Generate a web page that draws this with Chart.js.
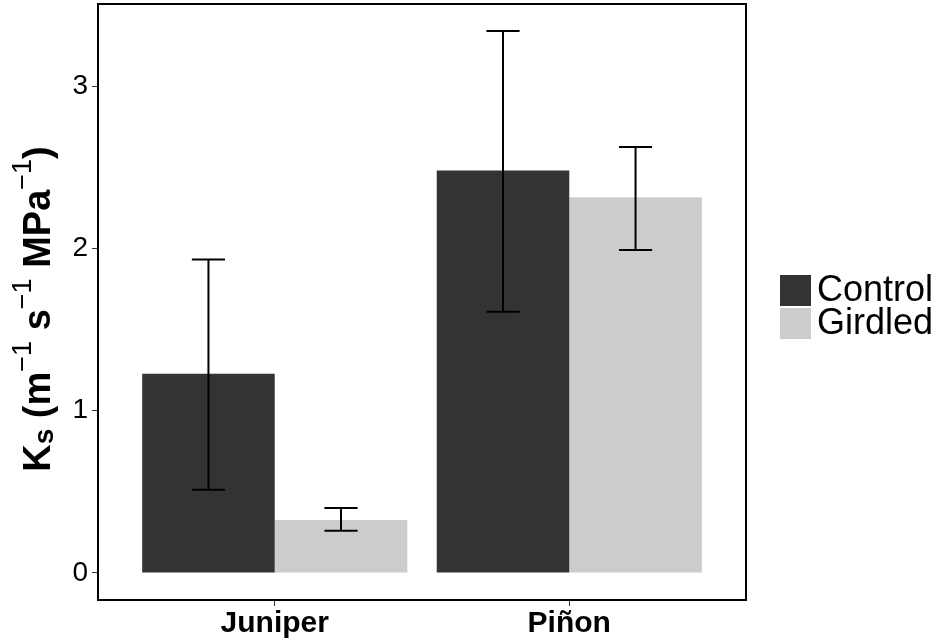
<!DOCTYPE html>
<html>
<head>
<meta charset="utf-8">
<script src="https://cdn.jsdelivr.net/npm/chart.js@4.4.1/dist/chart.umd.min.js"></script>
<style>
  html, body { margin: 0; padding: 0; background: #fff; }
  #wrap { width: 941px; height: 640px; }
</style>
</head>
<body>
<div id="wrap"><canvas id="chart" width="941" height="640"></canvas></div>
<script>
const categories = ["Juniper", "Piñon"];
const seriesNames = ["Control", "Girdled"];
const controlMeans = [1.228, 2.48];
const controlLower = [0.512, 1.61];
const controlUpper = [1.932, 3.34];
const girdledMeans = [0.327, 2.315];
const girdledLower = [0.26, 1.99];
const girdledUpper = [0.40, 2.625];
const yTicks = [0, 1, 2, 3];

const FONT = "'Liberation Sans', Arial, Helvetica, sans-serif";

const toPoints = (values) => values.map((v, i) => ({ x: i + 1, y: v }));

// error bars, drawn from the bar elements and the y scale
const errorBars = {
  id: "errorBars",
  afterDatasetsDraw(chart) {
    const ctx = chart.ctx;
    const y = chart.scales.y;
    ctx.save();
    ctx.strokeStyle = "#000";
    ctx.lineWidth = 2;
    chart.data.datasets.forEach((ds, di) => {
      const meta = chart.getDatasetMeta(di);
      meta.data.forEach((bar, i) => {
        const lo = y.getPixelForValue(ds.lower[i]);
        const hi = y.getPixelForValue(ds.upper[i]);
        const half = bar.width * 0.125;
        ctx.beginPath();
        ctx.moveTo(bar.x, lo);
        ctx.lineTo(bar.x, hi);
        ctx.moveTo(bar.x - half, lo);
        ctx.lineTo(bar.x + half, lo);
        ctx.moveTo(bar.x - half, hi);
        ctx.lineTo(bar.x + half, hi);
        ctx.stroke();
      });
    });
    ctx.restore();
  }
};

// panel border, y title with sub/superscripts, legend on the right
const decorations = {
  id: "decorations",
  afterDraw(chart) {
    const ctx = chart.ctx;
    const area = chart.chartArea;
    ctx.save();
    ctx.strokeStyle = "#000";
    ctx.lineWidth = 2;
    ctx.strokeRect(area.left, area.top, area.right - area.left, area.bottom - area.top);

    // y axis title
    const pieces = [
      { t: "K", f: "bold 38px " + FONT, dy: 0 },
      { t: "s", f: "bold 28px " + FONT, dy: 3 },
      { t: " (m", f: "bold 38px " + FONT, dy: 0 },
      { t: "\u22121", f: "27px " + FONT, dy: -19 },
      { t: " s", f: "bold 38px " + FONT, dy: 0 },
      { t: "\u22121", f: "27px " + FONT, dy: -19 },
      { t: " MPa", f: "bold 38px " + FONT, dy: 0 },
      { t: "\u22121", f: "27px " + FONT, dy: -19 },
      { t: ")", f: "bold 38px " + FONT, dy: 0 }
    ];
    let total = 0;
    pieces.forEach((p) => {
      ctx.font = p.f;
      p.w = ctx.measureText(p.t).width;
      total += p.w;
    });
    const cy = (area.top + area.bottom) / 2 + 7;
    ctx.translate(50, cy);
    ctx.rotate(-Math.PI / 2);
    ctx.fillStyle = "#000";
    ctx.textBaseline = "alphabetic";
    let x = -total / 2;
    pieces.forEach((p) => {
      ctx.font = p.f;
      ctx.fillText(p.t, x, p.dy);
      x += p.w;
    });
    ctx.setTransform(1, 0, 0, 1, 0, 0);

    // legend
    const box = 31;
    const lx = area.right + 34;
    const ly = (area.top + area.bottom) / 2 - 27;
    chart.data.datasets.forEach((ds, i) => {
      const top = ly + i * (box + 2);
      ctx.fillStyle = ds.backgroundColor;
      ctx.fillRect(lx, top, box, box);
      ctx.fillStyle = "#000";
      ctx.font = "36px " + FONT;
      ctx.textBaseline = "middle";
      ctx.fillText(ds.label, lx + box + 6, top + box / 2 + 1);
    });
    ctx.restore();
  }
};

new Chart(document.getElementById("chart"), {
  type: "bar",
  data: {
    datasets: [
      {
        label: seriesNames[0],
        data: toPoints(controlMeans),
        lower: controlLower,
        upper: controlUpper,
        backgroundColor: "#333333",
        borderWidth: 0
      },
      {
        label: seriesNames[1],
        data: toPoints(girdledMeans),
        lower: girdledLower,
        upper: girdledUpper,
        backgroundColor: "#cccccc",
        borderWidth: 0
      }
    ]
  },
  options: {
    responsive: false,
    animation: false,
    layout: { padding: { top: 4, right: 195, left: 0, bottom: 0 } },
    datasets: { bar: { categoryPercentage: 0.9, barPercentage: 1 } },
    plugins: {
      legend: { display: false },
      tooltip: { enabled: false }
    },
    scales: {
      x: {
        type: "linear",
        min: 0.4,
        max: 2.6,
        offset: false,
        afterBuildTicks: (scale) => {
          scale.ticks = categories.map((c, i) => ({ value: i + 1 }));
        },
        afterFit: (scale) => {
          scale.height = 40;
          scale.paddingLeft = 0;
          scale.paddingRight = 0;
        },
        grid: { offset: false, drawOnChartArea: false, tickLength: 6, tickColor: "#333", tickWidth: 1 },
        border: { display: true, color: "#000", width: 2 },
        ticks: {
          padding: 0,
          color: "#000",
          font: { family: FONT, size: 30, weight: "bold" },
          callback: (value) => categories[value - 1]
        }
      },
      y: {
        min: -0.1667,
        max: 3.506,
        afterBuildTicks: (scale) => {
          scale.ticks = yTicks.map((v) => ({ value: v }));
        },
        afterFit: (scale) => {
          scale.width = 98;
          scale.paddingTop = 0;
          scale.paddingBottom = 0;
        },
        grid: { drawOnChartArea: false, tickLength: 6, tickColor: "#333", tickWidth: 1 },
        border: { display: true, color: "#000", width: 2 },
        ticks: {
          padding: 4,
          color: "#000",
          font: { family: FONT, size: 28 }
        }
      }
    }
  },
  plugins: [errorBars, decorations]
});
</script>
</body>
</html>
